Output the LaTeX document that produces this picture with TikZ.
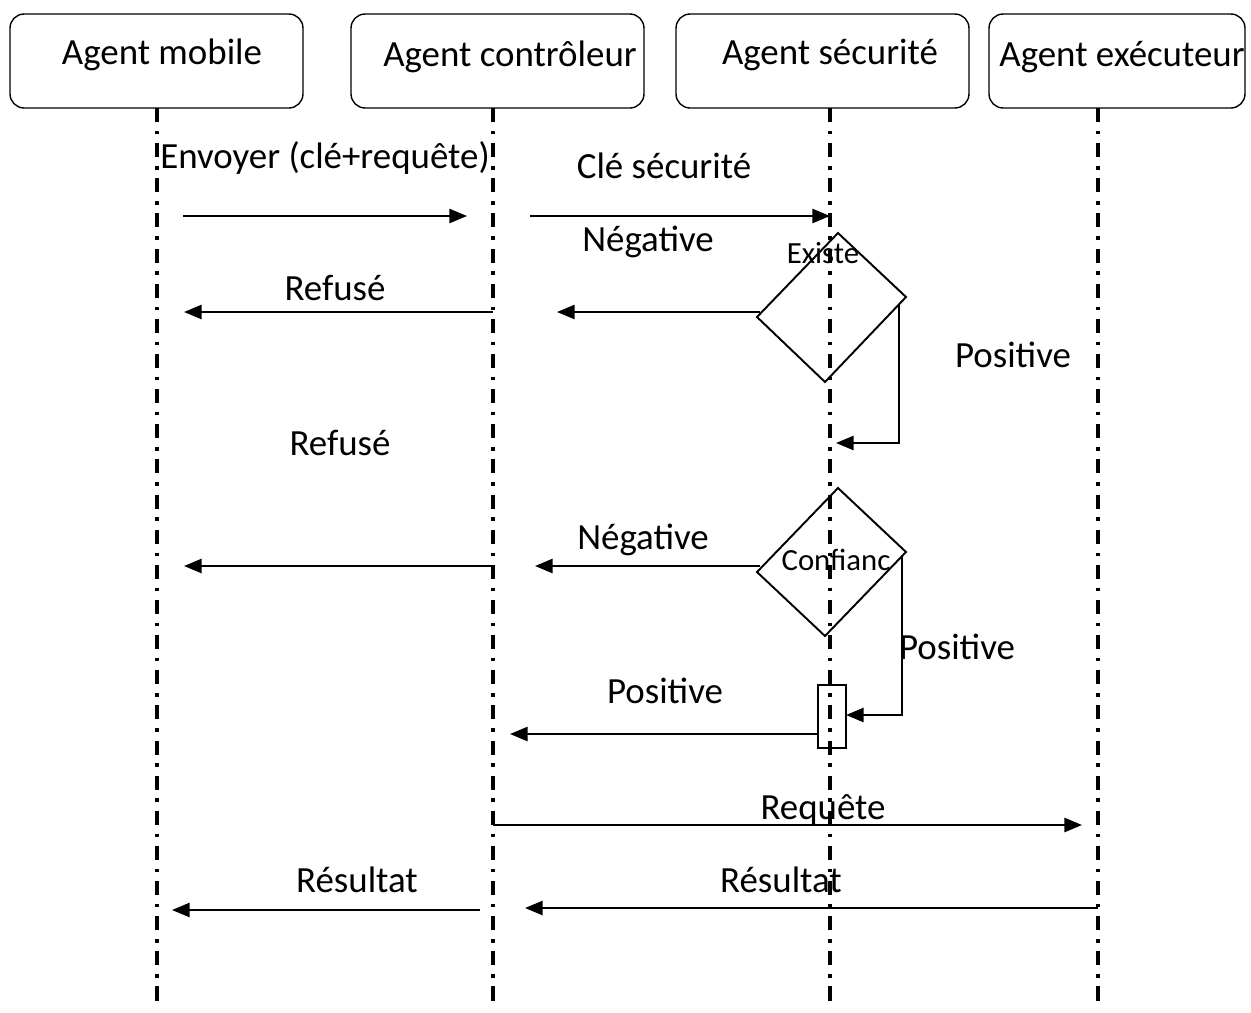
\documentclass[tikz,border=0pt]{standalone}
\usepackage{fontspec}
\setmainfont{Carlito}
\usetikzlibrary{arrows.meta}

\tikzset{
  agent/.style={draw,rounded corners=8pt,line width=0.8pt,minimum height=1.88cm},
  lifeline/.style={line width=2pt,dash pattern=on 8pt off 5pt on 2pt off 5pt},
  msg/.style={line width=1.3pt,-{Triangle[length=10pt,width=8pt]}},
  lbl/.style={font=\fontsize{21}{25}\selectfont,inner sep=0pt},
  lblsmall/.style={font=\fontsize{17.5}{21}\selectfont,inner sep=0pt},
  test/.style={line width=1.1pt}
}

\begin{document}
\begin{tikzpicture}[x=0.02cm,y=-0.02cm]
\useasboundingbox (0,0) rectangle (1251,1012);

\node[agent,minimum width=5.86cm] (mobile) at (156.5,61) {};
\node[agent,minimum width=5.86cm] (ctrl) at (497.5,61) {};
\node[agent,minimum width=5.86cm] (secu) at (822.5,61) {};
\node[agent,minimum width=5.12cm] (exec) at (1117,61) {};
\node[lbl] (tmobile) at (162,55) {Agent mobile};
\node[lbl] (tctrl) at (510,57) {Agent contrôleur};
\node[lbl] (tsecu) at (830,55) {Agent sécurité};
\node[lbl] (texec) at (1122,57) {Agent exécuteur};

\foreach \x/\n in {157/mob,493/ctl,830/sec,1098/exe}{
  \coordinate (\n top) at (\x,108);
  \coordinate (\n bot) at (\x,1005);
  \draw[lifeline] (\n top) -- (\n bot);
}

% premier test : la cle existe ?
\coordinate (ex top) at (838,233);
\coordinate (ex right) at (906,297);
\coordinate (ex bot) at (825,382);
\coordinate (ex left) at (757,317);
\draw[test] (ex top) -- (ex right) -- (ex bot) -- (ex left) -- cycle;
\node[lblsmall] (existe) at (823,253) {Existe};

% second test : confiance
\coordinate (cf top) at (838,488);
\coordinate (cf right) at (906,552);
\coordinate (cf bot) at (825,636);
\coordinate (cf left) at (757,572);
\draw[test] (cf top) -- (cf right) -- (cf bot) -- (cf left) -- cycle;
\node[lblsmall] (confiance) at (836,560) {Confianc};

\node[draw,line width=0.8pt,minimum width=0.56cm,minimum height=1.26cm,inner sep=0pt] (act) at (832,716.5) {};

\coordinate (m1a) at (183,216);  \coordinate (m1b) at (467,216);
\coordinate (m2a) at (530,216);  \coordinate (m2b) at (830,216);
\coordinate (m3a) at (760,312);  \coordinate (m3b) at (557,312);
\coordinate (m4a) at (493,312);  \coordinate (m4b) at (184,312);
\coordinate (m5a) at (899,305);  \coordinate (m5b) at (836,443);
\coordinate (m6a) at (760,566);  \coordinate (m6b) at (535,566);
\coordinate (m7a) at (493,566);  \coordinate (m7b) at (184,566);
\coordinate (m8a) at (902,555);  \coordinate (m8b) at (846,715);
\coordinate (m9a) at (818,734);  \coordinate (m9b) at (510,734);
\coordinate (m10a) at (493,825); \coordinate (m10b) at (1082,825);
\coordinate (m11a) at (1098,908); \coordinate (m11b) at (525,908);
\coordinate (m12a) at (480,910); \coordinate (m12b) at (172,910);

\draw[msg] (m1a) -- (m1b);
\draw[msg] (m2a) -- (m2b);
\draw[msg] (m3a) -- (m3b);
\draw[msg] (m4a) -- (m4b);
\draw[msg] (m5a) |- (m5b);
\draw[msg] (m6a) -- (m6b);
\draw[msg] (m7a) -- (m7b);
\draw[msg] (m8a) |- (m8b);
\draw[msg] (m9a) -- (m9b);
\draw[msg] (m10a) -- (m10b);
\draw[msg] (m11a) -- (m11b);
\draw[msg] (m12a) -- (m12b);

\node[lbl] (l1) at (325,158) {Envoyer (clé+requête)};
\node[lbl] (l2) at (664,166) {Clé sécurité};
\node[lbl] (l3) at (648,242) {Négative};
\node[lbl] (l4) at (335,288) {Refusé};
\node[lbl] (l5) at (1013,355) {Positive};
\node[lbl] (l6) at (340,443) {Refusé};
\node[lbl] (l7) at (643,540) {Négative};
\node[lbl] (l8) at (957,647) {Positive};
\node[lbl] (l9) at (665,691) {Positive};
\node[lbl] (l10) at (823,810) {Requête};
\node[lbl] (l11) at (781,880) {Résultat};
\node[lbl] (l12) at (357,880) {Résultat};
\end{tikzpicture}
\end{document}
